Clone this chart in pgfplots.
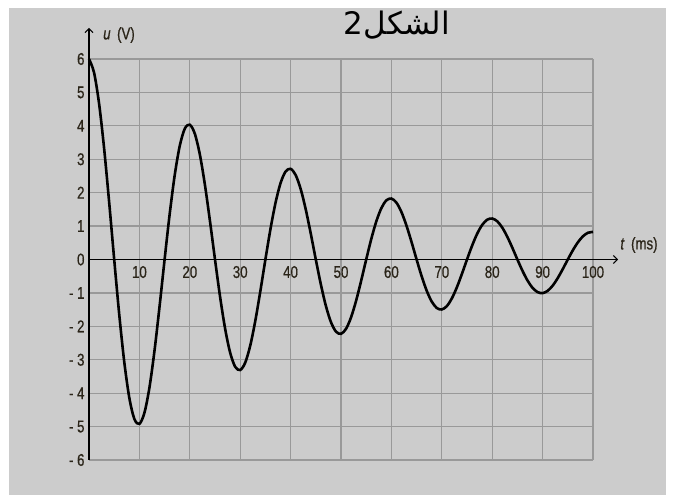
\documentclass[border=0pt]{standalone}
\usepackage{fontspec}
\usepackage{pgfplots}
\pgfplotsset{compat=1.18}
\usetikzlibrary{arrows.meta}
\setmainfont{Liberation Sans}
\newfontfamily\narrow[FakeStretch=0.78, FakeBold=0.6]{Liberation Sans}
\newfontfamily\arabicfont[Script=Arabic]{DejaVu Sans}
\TeXXeTstate=1
\definecolor{bg}{HTML}{CCCCCC}
\definecolor{gridc}{HTML}{999999}
\definecolor{lbl}{HTML}{2A2418}
\begin{document}
\begin{tikzpicture}
\useasboundingbox (0,0) rectangle (673bp,495bp);
\fill[white] (0,0) rectangle (673bp,495bp);
\fill[bg] (9bp,0) rectangle (666bp,487bp);
\begin{axis}[
  at={(89bp,35bp)}, anchor=south west,
  scale only axis, width=504bp, height=401bp,
  xmin=0, xmax=100, ymin=-6, ymax=6,
  axis lines=middle,
  hide obscured x ticks=false, hide obscured y ticks=false,
  axis line style={black, line width=1.4bp},
  x axis line style={-{Straight Barb[length=4bp,width=8bp,line width=1bp]}, shorten >=-25bp},
  y axis line style={-{Straight Barb[length=4bp,width=8bp,line width=1bp]}, shorten >=-31bp},
  xtick={10,20,...,100}, ytick={-6,-5,...,6},
  xticklabels={10,20,30,40,50,60,70,80,90,100},
  yticklabels={- 6,- 5,- 4,- 3,- 2,- 1,0,1,2,3,4,5,6},
  major tick length=0pt, tick style={draw=none},
  grid=major, grid style={gridc, line width=1.3bp},
  tick label style={font=\narrow\fontsize{17bp}{19bp}\selectfont, text=lbl},
  xticklabel style={yshift=-3bp},
  yticklabel style={xshift=-1bp},
  clip=false,
]
\addplot[black, line width=2.6bp, smooth] coordinates {
(0,6.000)(1,5.595)(2,4.665)(3,3.323)(4,1.713)(5,0)(6,-1.646)(7,-3.069)(8,-4.141)(9,-4.773)
(10,-4.920)(11,-4.587)(12,-3.825)(13,-2.725)(14,-1.404)(15,0)(16,1.350)(17,2.517)(18,3.396)(19,3.914)
(20,4.034)(21,3.762)(22,3.137)(23,2.234)(24,1.151)(25,0)(26,-1.107)(27,-2.064)(28,-2.785)(29,-3.210)
(30,-3.308)(31,-3.085)(32,-2.572)(33,-1.832)(34,-0.944)(35,0)(36,0.907)(37,1.692)(38,2.283)(39,2.632)
(40,2.713)(41,2.529)(42,2.109)(43,1.502)(44,0.774)(45,0)(46,-0.744)(47,-1.388)(48,-1.872)(49,-2.158)
(50,-2.224)(51,-2.074)(52,-1.730)(53,-1.232)(54,-0.635)(55,0)(56,0.610)(57,1.138)(58,1.535)(59,1.770)
(60,1.824)(61,1.701)(62,1.418)(63,1.010)(64,0.521)(65,0)(66,-0.500)(67,-0.933)(68,-1.259)(69,-1.451)
(70,-1.496)(71,-1.395)(72,-1.163)(73,-0.828)(74,-0.427)(75,0)(76,0.410)(77,0.765)(78,1.032)(79,1.190)
(80,1.226)(81,1.144)(82,0.954)(83,0.679)(84,0.350)(85,0)(86,-0.336)(87,-0.627)(88,-0.847)(89,-0.976)
(90,-1.006)(91,-0.938)(92,-0.782)(93,-0.557)(94,-0.287)(95,0)(96,0.276)(97,0.514)(98,0.694)(99,0.800)
(100,0.825)
};
\end{axis}
\node[font=\narrow\fontsize{17bp}{19bp}\selectfont, text=lbl] at (119bp,460bp) {\textit{u}\, (V)};
\node[font=\narrow\fontsize{17bp}{19bp}\selectfont, text=lbl] at (639bp,250bp) {\textit{t}\, (ms)};
\node[font=\arabicfont\fontsize{31bp}{34bp}\selectfont] at (397bp,470bp) {2\beginR الشكل\endR};
\end{tikzpicture}
\end{document}
